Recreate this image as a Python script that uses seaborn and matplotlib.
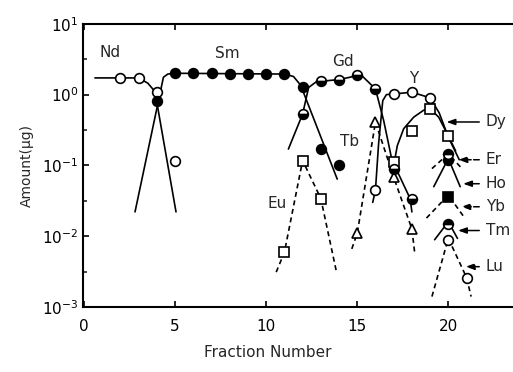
import numpy as np
import seaborn as sns
import matplotlib.pyplot as plt
from matplotlib.ticker import LogLocator, FixedLocator, NullFormatter

# Valores medidos (fraccion, cantidad en ug)
nd_x = [2, 3, 4, 5]
nd_y = [1.72, 1.72, 1.1, 0.115]
sm_x = [4, 5, 6, 7, 8, 9, 10, 11, 12, 13, 14]
sm_y = [0.8, 2.0, 2.0, 2.0, 1.95, 1.95, 1.95, 1.95, 1.27, 0.17, 0.10]
eu_x = [11, 12, 13]
eu_y = [0.0059, 0.117, 0.034]
gd_x = [12, 13, 14, 15, 16, 17, 18]
gd_y = [0.53, 1.54, 1.63, 1.92, 1.2, 0.09, 0.034]
tb_x = [15, 16, 17, 18]
tb_y = [0.011, 0.41, 0.068, 0.0126]
y_x = [16, 17, 18, 19]
y_y = [0.045, 1.02, 1.08, 0.9]
dy_x = [17, 18, 19, 20]
dy_y = [0.11, 0.31, 0.63, 0.26]
er_x, er_y = [20], [0.145]
ho_x, ho_y = [20], [0.12]
yb_x, yb_y = [20], [0.036]
tm_x, tm_y = [20], [0.015]
lu_x = [20, 21]
lu_y = [0.0087, 0.0026]

# Curvas de elucion dibujadas a mano
nd_cx = [0.6, 3.0, 3.5, 3.9, 4.05, 5.05]
nd_cy = [1.72, 1.72, 1.45, 1.1, 0.65, 0.022]
sm_cx = [2.8, 4.36, 4.6, 5.0, 11.0, 11.5, 11.85, 12.05, 13.9]
sm_cy = [0.022, 1.76, 1.95, 2.0, 1.95, 1.8, 1.4, 1.07, 0.064]
eu_cx = [10.55, 11, 12, 13, 13.85]
eu_cy = [0.0031, 0.0059, 0.117, 0.034, 0.0032]
gd_cx = [11.22, 12, 12.33, 12.8, 13, 14, 15, 15.3, 16, 16.45, 16.9, 17.9, 18.0]
gd_cy = [0.17, 0.53, 1.26, 1.55, 1.54, 1.63, 1.85, 1.8, 1.2, 0.43, 0.12, 0.034, 0.022]
tb_cx = [14.7, 15, 16, 17, 18, 18.15]
tb_cy = [0.0066, 0.011, 0.41, 0.068, 0.0126, 0.0059]
y_cx = [15.85, 16, 16.17, 16.4, 16.6, 17, 18, 19, 19.5, 20, 20.6]
y_cy = [0.03, 0.045, 0.2, 0.82, 1.0, 1.02, 1.08, 0.9, 0.55, 0.25, 0.12]
dy_cx = [17, 17.2, 17.55, 18.1, 18.64, 19, 19.47, 20, 20.4]
dy_cy = [0.1, 0.19, 0.33, 0.48, 0.6, 0.63, 0.48, 0.26, 0.16]
er_cx = [19.1, 20, 20.75]
er_cy = [0.09, 0.145, 0.09]
ho_cx = [19.2, 20, 20.65]
ho_cy = [0.05, 0.125, 0.05]
yb_cx = [18.8, 20, 20.9]
yb_cy = [0.018, 0.038, 0.018]
tm_cx = [19.25, 20, 20.5]
tm_cy = [0.0089, 0.016, 0.0093]
lu_cx = [19.1, 20, 21, 21.25]
lu_cy = [0.0014, 0.0093, 0.0026, 0.0014]

sns.set_style("ticks")
plt.rcParams["font.family"] = ["DejaVu Sans"]
plt.rcParams["mathtext.fontset"] = "dejavusans"

fig = plt.figure(figsize=(5.13, 3.72), dpi=100)
ax = fig.add_axes([0.162, 0.175, 0.838, 0.761])

solid = dict(color="black", linewidth=1.2)
dashed = dict(color="black", linewidth=1.2, linestyle=(0, (3, 2.2)))

# curvas
sns.lineplot(x=nd_cx, y=nd_cy, ax=ax, sort=False, **solid)
sns.lineplot(x=sm_cx, y=sm_cy, ax=ax, sort=False, **solid)
sns.lineplot(x=eu_cx, y=eu_cy, ax=ax, sort=False, **dashed)
sns.lineplot(x=gd_cx, y=gd_cy, ax=ax, sort=False, **solid)
sns.lineplot(x=tb_cx, y=tb_cy, ax=ax, sort=False, **dashed)
sns.lineplot(x=y_cx, y=y_cy, ax=ax, sort=False, **solid)
sns.lineplot(x=dy_cx, y=dy_cy, ax=ax, sort=False, **solid)
sns.lineplot(x=er_cx, y=er_cy, ax=ax, sort=False, **dashed)
sns.lineplot(x=ho_cx, y=ho_cy, ax=ax, sort=False, **solid)
sns.lineplot(x=yb_cx, y=yb_cy, ax=ax, sort=False, **dashed)
sns.lineplot(x=tm_cx, y=tm_cy, ax=ax, sort=False, **solid)
sns.lineplot(x=lu_cx, y=lu_cy, ax=ax, sort=False, **dashed)

# marcadores
mk = dict(color="black", linestyle="none", markersize=7, markeredgewidth=1.2,
          markeredgecolor="black")
open_c = dict(marker="o", markerfacecolor="white", **mk)
full_c = dict(marker="o", markerfacecolor="black", **mk)
half_b = dict(marker="o", fillstyle="bottom", markerfacecolor="black",
              markerfacecoloralt="white", **mk)
half_t = dict(marker="o", fillstyle="top", markerfacecolor="black",
              markerfacecoloralt="white", **mk)
open_s = dict(marker="s", markerfacecolor="white", **mk)
full_s = dict(marker="s", markerfacecolor="black", **mk)
open_t = dict(marker="^", markerfacecolor="white", **mk)

sns.lineplot(x=dy_x, y=dy_y, ax=ax, **open_s)
sns.lineplot(x=eu_x, y=eu_y, ax=ax, **open_s)
sns.lineplot(x=tb_x, y=tb_y, ax=ax, **open_t)
sns.lineplot(x=nd_x, y=nd_y, ax=ax, **open_c)
sns.lineplot(x=sm_x, y=sm_y, ax=ax, **full_c)
sns.lineplot(x=gd_x, y=gd_y, ax=ax, **half_b)
sns.lineplot(x=y_x, y=y_y, ax=ax, **open_c)
sns.lineplot(x=ho_x, y=ho_y, ax=ax, **full_c)
sns.lineplot(x=er_x, y=er_y, ax=ax, **half_t)
sns.lineplot(x=yb_x, y=yb_y, ax=ax, **full_s)
sns.lineplot(x=tm_x, y=tm_y, ax=ax, **half_t)
sns.lineplot(x=lu_x, y=lu_y, ax=ax, **open_c)

ax.set_yscale("log")
ax.set_ylim(1e-3, 1e1)
ax.set_xlim(-0.05, 23.55)
ax.xaxis.set_major_locator(FixedLocator([0, 5, 10, 15, 20]))
ax.yaxis.set_major_locator(LogLocator(base=10, numticks=10))
ax.yaxis.set_minor_locator(LogLocator(base=10, subs=[10 ** 0.5], numticks=10))
ax.yaxis.set_minor_formatter(NullFormatter())
ax.tick_params(direction="in", length=4, width=1.2, labelsize=11, colors="black")
ax.tick_params(which="minor", direction="in", length=3, width=1.2)
ax.tick_params(axis="x", pad=9, top=True)
for s in ["left", "bottom", "top"]:
    ax.spines[s].set_linewidth(1.5)
    ax.spines[s].set_color("black")
ax.spines["right"].set_visible(False)

ax.set_xlabel("Fraction Number", fontsize=11)
ax.set_ylabel("Amount(μg)", fontsize=10)
ax.xaxis.set_label_coords(0.43, -0.135)
ax.yaxis.set_label_coords(-0.115, 0.5)

# etiquetas de elementos
lab = dict(fontsize=11, ha="center", va="center")
ax.text(1.43, 3.98, "Nd", **lab)
ax.text(7.84, 3.8, "Sm", **lab)
ax.text(14.2, 2.9, "Gd", **lab)
ax.text(18.1, 1.67, "Y", **lab)
ax.text(14.6, 0.22, "Tb", **lab)
ax.text(10.6, 0.029, "Eu", **lab)

right_labels = ["Dy", "Er", "Ho", "Yb", "Tm", "Lu"]
right_y = [0.41, 0.12, 0.055, 0.026, 0.012, 0.0037]
arrow_x = [19.75, 20.4, 20.66, 20.56, 20.38, 20.8]
arrow_dash = [False, True, False, True, False, True]
for name, yy, xa, dsh in zip(right_labels, right_y, arrow_x, arrow_dash):
    ax.text(22.05, yy, name, fontsize=11, ha="left", va="center")
    ax.annotate("", xy=(xa, yy), xytext=(21.85, yy),
                arrowprops=dict(arrowstyle="-|>,head_length=0.5,head_width=0.18",
                                color="black", lw=1.1,
                                linestyle="--" if dsh else "-"))

plt.savefig("out.png", dpi=100)
plt.close()
